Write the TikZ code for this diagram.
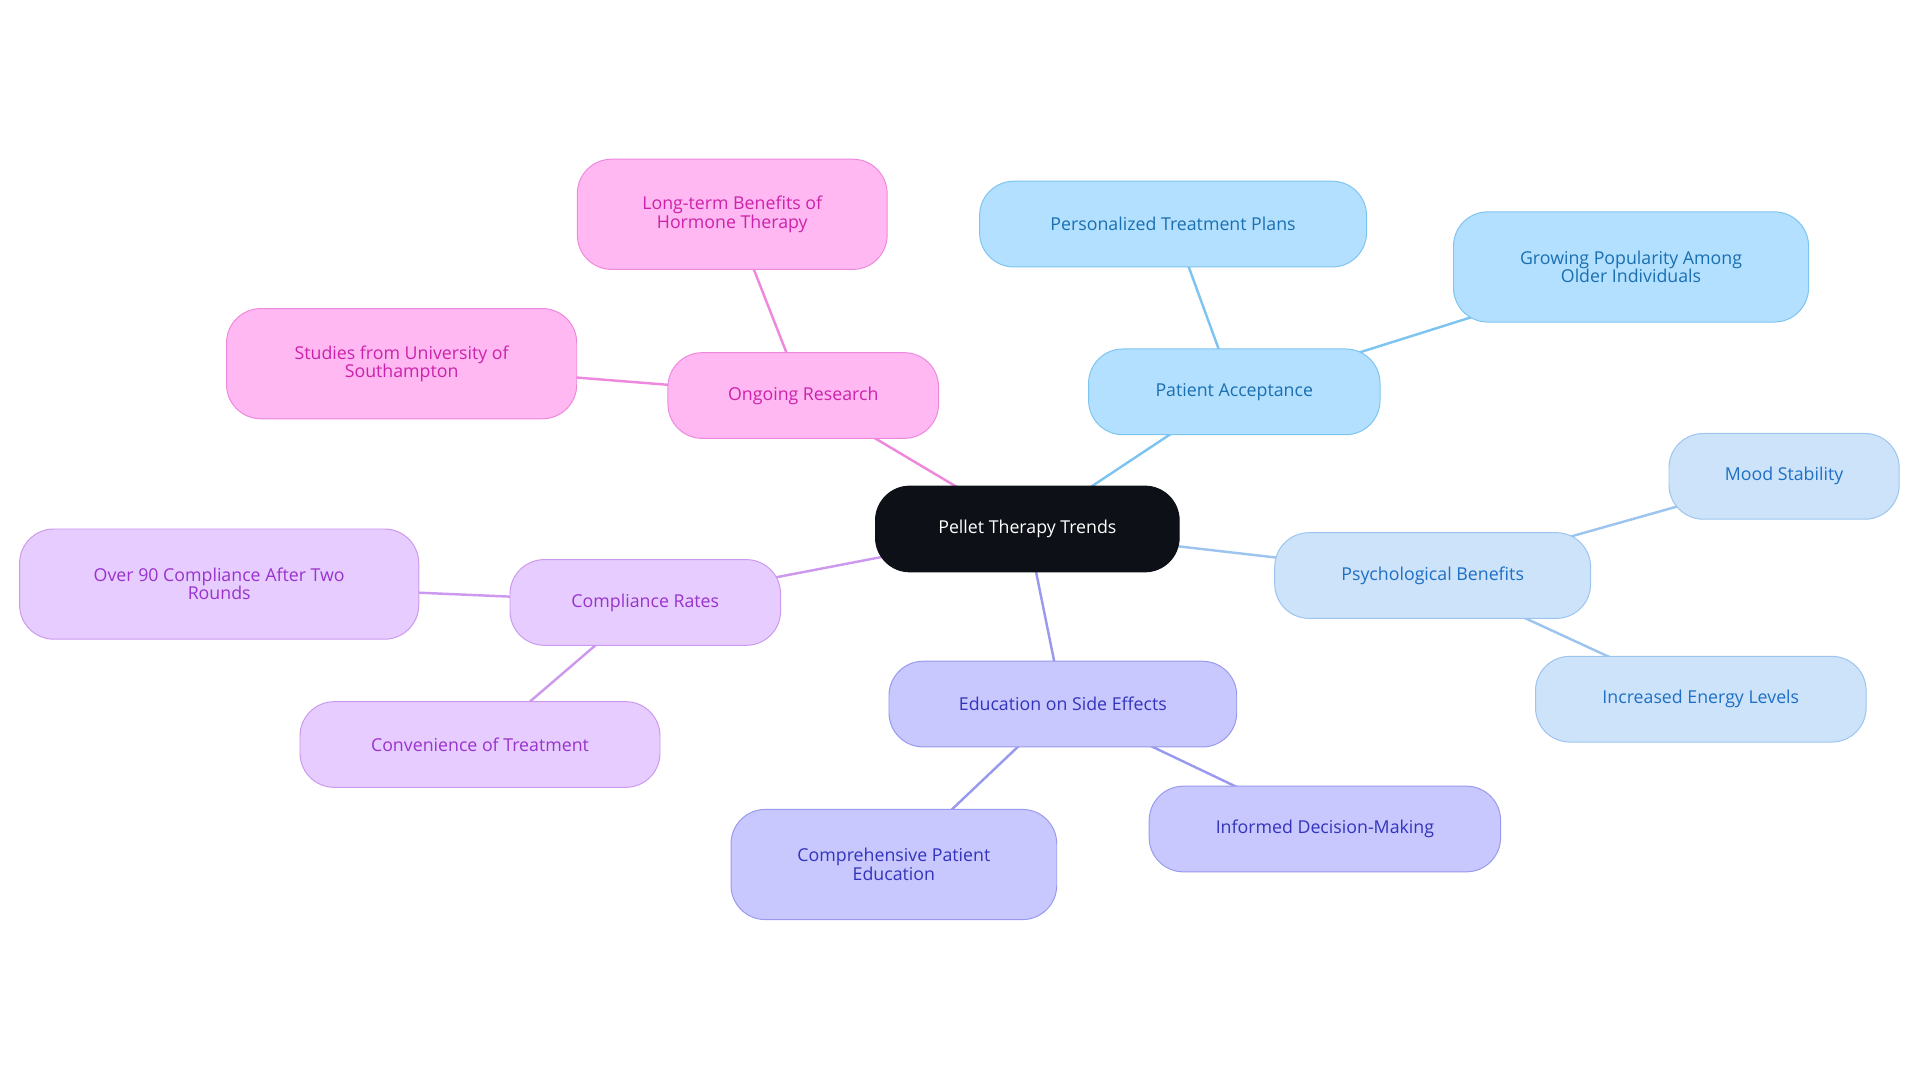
\documentclass[tikz,border=0pt]{standalone}
\usepackage{fontspec}
\setmainfont{Open Sans}
\usetikzlibrary{backgrounds}
\definecolor{cblue}{HTML}{B3E0FF}\definecolor{bblue}{HTML}{7DC4F0}\definecolor{tblue}{HTML}{1A6FB0}
\definecolor{clb}{HTML}{CCE3FA}\definecolor{blb}{HTML}{9CC4EE}\definecolor{tlb}{HTML}{1F6FC5}
\definecolor{cpb}{HTML}{C8C8FF}\definecolor{bpb}{HTML}{9999EE}\definecolor{tpb}{HTML}{3333BB}
\definecolor{cvi}{HTML}{E6CCFF}\definecolor{bvi}{HTML}{CC99EE}\definecolor{tvi}{HTML}{9933CC}
\definecolor{cpk}{HTML}{FFB8F2}\definecolor{bpk}{HTML}{EE88DD}\definecolor{tpk}{HTML}{CC22AA}
\definecolor{cdark}{HTML}{0D1117}
\tikzset{
 box/.style={rectangle,rounded corners=28pt,draw,line width=0.8pt,align=center,font=\fontsize{14.5}{15}\selectfont,inner sep=2pt,minimum height=70pt},
 tall/.style={minimum height=90pt},
 kblue/.style={box,fill=cblue,draw=bblue,text=tblue},
 klb/.style={box,fill=clb,draw=blb,text=tlb},
 kpb/.style={box,fill=cpb,draw=bpb,text=tpb},
 kvi/.style={box,fill=cvi,draw=bvi,text=tvi},
 kpk/.style={box,fill=cpk,draw=bpk,text=tpk},
 link/.style={line width=2pt}
}
\begin{document}
\begin{tikzpicture}[x=1pt,y=-1pt]
\useasboundingbox (0,0) rectangle (1568,884);
\node[box,fill=cdark,draw=cdark,text=white,minimum width=248pt] (c) at (839,432) {Pellet Therapy Trends};
\node[kblue,minimum width=238pt] (pa) at (1008,320) {Patient Acceptance};
\node[kblue,minimum width=316pt] (pt) at (958,183) {Personalized Treatment Plans};
\node[kblue,tall,minimum width=290pt] (gp) at (1332,218) {Growing Popularity Among\\Older Individuals};
\node[klb,minimum width=258pt] (ps) at (1170,470) {Psychological Benefits};
\node[klb,minimum width=188pt] (ms) at (1457,389) {Mood Stability};
\node[klb,minimum width=270pt] (ie) at (1389,571) {Increased Energy Levels};
\node[kpb,minimum width=284pt] (ed) at (868,575) {Education on Side Effects};
\node[kpb,tall,minimum width=266pt] (cp) at (730,706) {Comprehensive Patient\\Education};
\node[kpb,minimum width=287pt] (id) at (1082,677) {Informed Decision-Making};
\node[kvi,minimum width=221pt] (cr) at (527,492) {Compliance Rates};
\node[kvi,tall,minimum width=326pt] (ov) at (179,477) {Over 90 Compliance After Two\\Rounds};
\node[kvi,minimum width=294pt] (cv) at (392,608) {Convenience of Treatment};
\node[kpk,minimum width=221pt] (or) at (656,323) {Ongoing Research};
\node[kpk,tall,minimum width=253pt] (lt) at (598,175) {Long-term Benefits of\\Hormone Therapy};
\node[kpk,tall,minimum width=286pt] (st) at (328,297) {Studies from University of\\Southampton};
\begin{pgfonlayer}{background}
\draw[link,draw=bblue] (c.center)--(pa.center) (pa.center)--(pt.center) (pa.center)--(gp.center);
\draw[link,draw=blb] (c.center)--(ps.center) (ps.center)--(ms.center) (ps.center)--(ie.center);
\draw[link,draw=bpb] (c.center)--(ed.center) (ed.center)--(cp.center) (ed.center)--(id.center);
\draw[link,draw=bvi] (c.center)--(cr.center) (cr.center)--(ov.center) (cr.center)--(cv.center);
\draw[link,draw=bpk] (c.center)--(or.center) (or.center)--(lt.center) (or.center)--(st.center);
\end{pgfonlayer}
\end{tikzpicture}
\end{document}
